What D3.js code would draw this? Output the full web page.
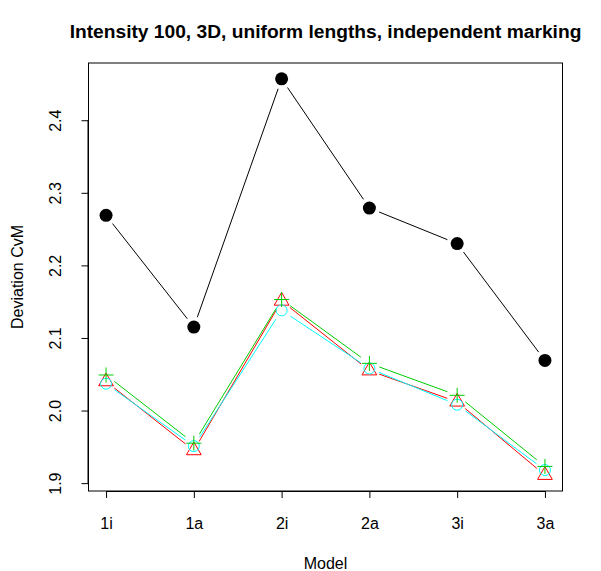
<!DOCTYPE html>
<html><head><meta charset="utf-8">
<script src="https://cdn.jsdelivr.net/npm/d3@7"></script>
<style>body{margin:0;background:#fff}svg{display:block}text{font-family:"Liberation Sans",Arial,sans-serif}</style>
</head><body>
<svg id="c" width="601" height="571"></svg>
<script>
const models = ["1i","1a","2i","2a","3i","3a"];
const blackSeries = [2.269, 2.115, 2.457, 2.279, 2.230, 2.069];
const redSeries   = [2.040, 1.945, 2.151, 2.055, 2.012, 1.911];
const cyanSeries  = [2.037, 1.951, 2.138, 2.058, 2.008, 1.918];
const greenSeries = [2.049, 1.955, 2.153, 2.065, 2.021, 1.923];
const yTicks = [1.9, 2.0, 2.1, 2.2, 2.3, 2.4];
const title = "Intensity 100, 3D, uniform lengths, independent marking";

const svg = d3.select("#c");
const L = 88.5, R = 562.5, T = 63, B = 491;
const FS = 16;
const allVals = blackSeries.concat(redSeries, cyanSeries, greenSeries);
const ymin = d3.min(allVals), ymax = d3.max(allVals);
const pad = (ymax - ymin) * 0.04;
const x = d3.scaleLinear().domain([1 - 0.2, models.length + 0.2]).range([L, R]);
const y = d3.scaleLinear().domain([ymin - pad, ymax + pad]).range([B, T]);

// frame
svg.append("rect").attr("x", L).attr("y", T).attr("width", R - L).attr("height", B - T)
  .attr("fill", "none").attr("stroke", "#000").attr("stroke-width", 1);

// axes
const xAxis = d3.axisBottom(x).tickValues(d3.range(1, models.length + 1))
  .tickFormat(i => models[i - 1]).tickSize(7);
const gx = svg.append("g").attr("transform", `translate(0,${B})`).call(xAxis);
gx.attr("font-size", null).attr("font-family", null);
gx.select(".domain").attr("d", `M${x(1)},0.5H${x(models.length)}`);
gx.selectAll(".tick text").style("font-size", FS + "px").attr("fill", "#000")
  .attr("y", 38).attr("dy", 0);

const yAxis = d3.axisLeft(y).tickValues(yTicks).tickFormat(d3.format(".1f")).tickSize(7);
const gy = svg.append("g").attr("transform", `translate(${L},0)`).call(yAxis);
gy.attr("font-size", null).attr("font-family", null);
gy.select(".domain").attr("d", `M-0.5,${y(yTicks[0])}V${y(yTicks[yTicks.length-1])}`);
gy.selectAll(".tick text").style("font-size", FS + "px").attr("fill", "#000")
  .attr("text-anchor", "middle").attr("x", 0).attr("dy", 0).attr("y", 0)
  .attr("transform", "translate(-28,0) rotate(-90)");

// labels
svg.append("text").attr("x", (L + R) / 2).attr("y", 38).attr("text-anchor", "middle")
  .style("font-size", "19.2px").attr("font-weight", "bold").text(title);
svg.append("text").attr("x", (L + R) / 2).attr("y", 569).attr("text-anchor", "middle")
  .style("font-size", FS + "px").text("Model");
svg.append("text").attr("transform", `translate(23,${(T + B) / 2}) rotate(-90)`)
  .attr("text-anchor", "middle").style("font-size", FS + "px").text("Deviation CvM");

// type "b" lines with gaps
function gapLines(vals, color) {
  const g = 10.5;
  const g0 = svg.append("g");
  for (let i = 0; i < vals.length - 1; i++) {
    const x1 = x(i + 1), y1 = y(vals[i]), x2 = x(i + 2), y2 = y(vals[i + 1]);
    const dx = x2 - x1, dy = y2 - y1, len = Math.hypot(dx, dy);
    if (len <= 2 * g) continue;
    const ux = dx / len, uy = dy / len;
    g0.append("line").attr("x1", x1 + ux * g).attr("y1", y1 + uy * g)
      .attr("x2", x2 - ux * g).attr("y2", y2 - uy * g)
      .attr("stroke", color).attr("stroke-width", 1);
  }
}
const RED = "#FF0000", GREEN = "#00CD00", CYAN = "#00FFFF";

gapLines(blackSeries, "#000");
gapLines(redSeries, RED);
gapLines(cyanSeries, CYAN);
gapLines(greenSeries, GREEN);

svg.append("g").selectAll("circle").data(blackSeries).join("circle")
  .attr("cx", (d, i) => x(i + 1)).attr("cy", d => y(d)).attr("r", 6.5).attr("fill", "#000");

// red triangles
const tr = 8.5;
svg.append("g").selectAll("path").data(redSeries).join("path")
  .attr("d", (d, i) => {
    const cx = x(i + 1), cy = y(d);
    const h = tr * Math.sqrt(3) / 2;
    return `M${cx},${cy - tr}L${cx + h},${cy + tr / 2}L${cx - h},${cy + tr / 2}Z`;
  })
  .attr("fill", "none").attr("stroke", RED).attr("stroke-width", 1);

// cyan circles
svg.append("g").selectAll("circle").data(cyanSeries).join("circle")
  .attr("cx", (d, i) => x(i + 1)).attr("cy", d => y(d)).attr("r", 5.5)
  .attr("fill", "none").attr("stroke", CYAN).attr("stroke-width", 1);

// green plus
const pr = 7.5;
svg.append("g").selectAll("path").data(greenSeries).join("path")
  .attr("d", (d, i) => {
    const cx = x(i + 1), cy = y(d);
    return `M${cx - pr},${cy}H${cx + pr}M${cx},${cy - pr}V${cy + pr}`;
  })
  .attr("fill", "none").attr("stroke", GREEN).attr("stroke-width", 1);
</script>
</body></html>
